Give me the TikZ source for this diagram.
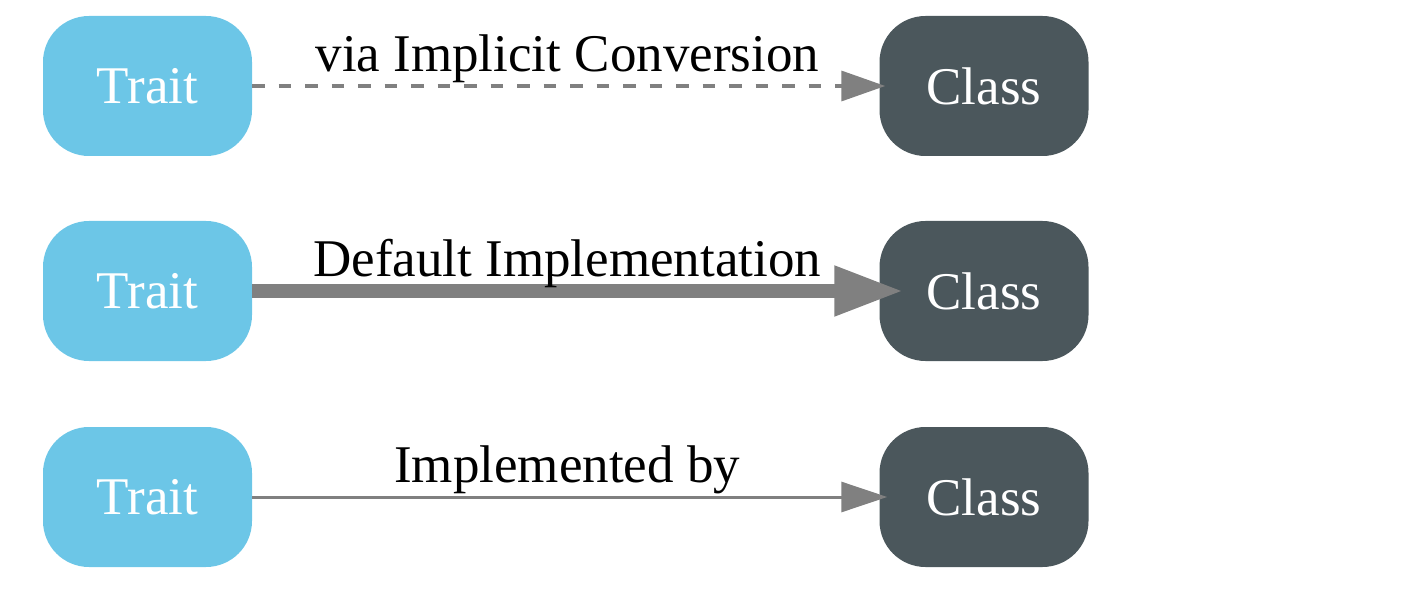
\documentclass[tikz,border=0pt]{standalone}
\usepackage{fontspec}
\setmainfont{Liberation Serif}
\usetikzlibrary{arrows.meta}
\definecolor{traitc}{HTML}{6CC6E7}
\definecolor{classc}{HTML}{4B575C}
\definecolor{edgec}{HTML}{808080}
\tikzset{
  box/.style={rounded corners=46pt, minimum width=209pt, minimum height=140pt,
    inner sep=0pt, text=white, font=\fontsize{53}{60}\selectfont},
  trait/.style={box, fill=traitc},
  klass/.style={box, fill=classc},
  conn/.style={draw=edgec},
  elabel/.style={midway, anchor=base, yshift=14.5pt, xshift=1.5pt, text=black, inner sep=0pt,
    font=\fontsize{53}{60}\selectfont},
}
\begin{document}
\begin{tikzpicture}[x=1pt,y=-1pt]
\useasboundingbox (0,0) rectangle (1420,601);
\node[trait] (t1) at (147.5,86) {Trait};
\node[trait] (t2) at (147.5,291) {Trait};
\node[trait] (t3) at (147.5,497) {Trait};
\node[klass] (c1) at (984,86) {Class};
\node[klass] (c2) at (984,291) {Class};
\node[klass] (c3) at (984,497) {Class};
\draw[conn, line width=3.5pt, dash pattern=on 12.5pt off 14pt,
  -{Triangle[length=44pt,width=30pt]}, shorten >=-6pt]
  (t1.east) -- node[elabel] {via Implicit Conversion} (c1.west);
\draw[conn, line width=14pt,
  -{Triangle[length=69pt,width=47pt]}, shorten >=-24pt]
  (t2.east) -- node[elabel] {Default Implementation} (c2.west);
\draw[conn, line width=3pt,
  -{Triangle[length=46pt,width=30pt]}, shorten >=-8pt]
  (t3.east) -- node[elabel] {Implemented by} (c3.west);
\end{tikzpicture}
\end{document}
